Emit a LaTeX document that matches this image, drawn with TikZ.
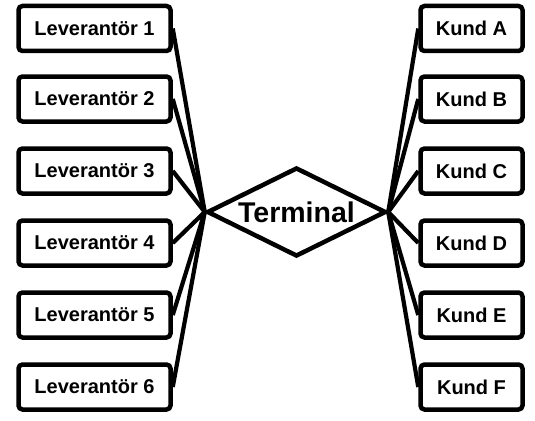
\documentclass[tikz,border=0pt]{standalone}
\usepackage{fontspec}
\setmainfont{Liberation Sans}
\usetikzlibrary{shapes.geometric}
\begin{document}
\begin{tikzpicture}[x=1pt,y=-1pt,
  box/.style={draw,line width=4.5pt,rounded corners=4pt,fill=white,inner sep=0pt,
    minimum height=45pt,font=\fontsize{20}{22}\selectfont\bfseries},
  lbox/.style={box,minimum width=152pt},
  rbox/.style={box,minimum width=102pt},
  term/.style={draw,line width=4.5pt,diamond,aspect=2,inner sep=0pt,
    minimum width=179pt,minimum height=89pt,font=\fontsize{28.5}{30}\selectfont\bfseries},
  conn/.style={line width=4.2pt}]
\useasboundingbox (0,0) rectangle (535,420);
\node[term] (t) at (296.5,212) {Terminal};
\foreach \i/\y in {1/28.5,2/99,3/171,4/243,5/315,6/387}{
  \node[lbox] (l\i) at (94.5,\y) {Leverantör \i};
}
\foreach \n/\y in {A/28.5,B/99,C/171,D/243,E/315,F/387}{
  \node[rbox] (r\n) at (471.5,\y) {Kund \n};
}
\foreach \i in {1,...,6}{ \draw[conn] (l\i.east) -- (t.west); }
\foreach \n in {A,B,C,D,E,F}{ \draw[conn] (r\n.west) -- (t.east); }
\end{tikzpicture}
\end{document}
